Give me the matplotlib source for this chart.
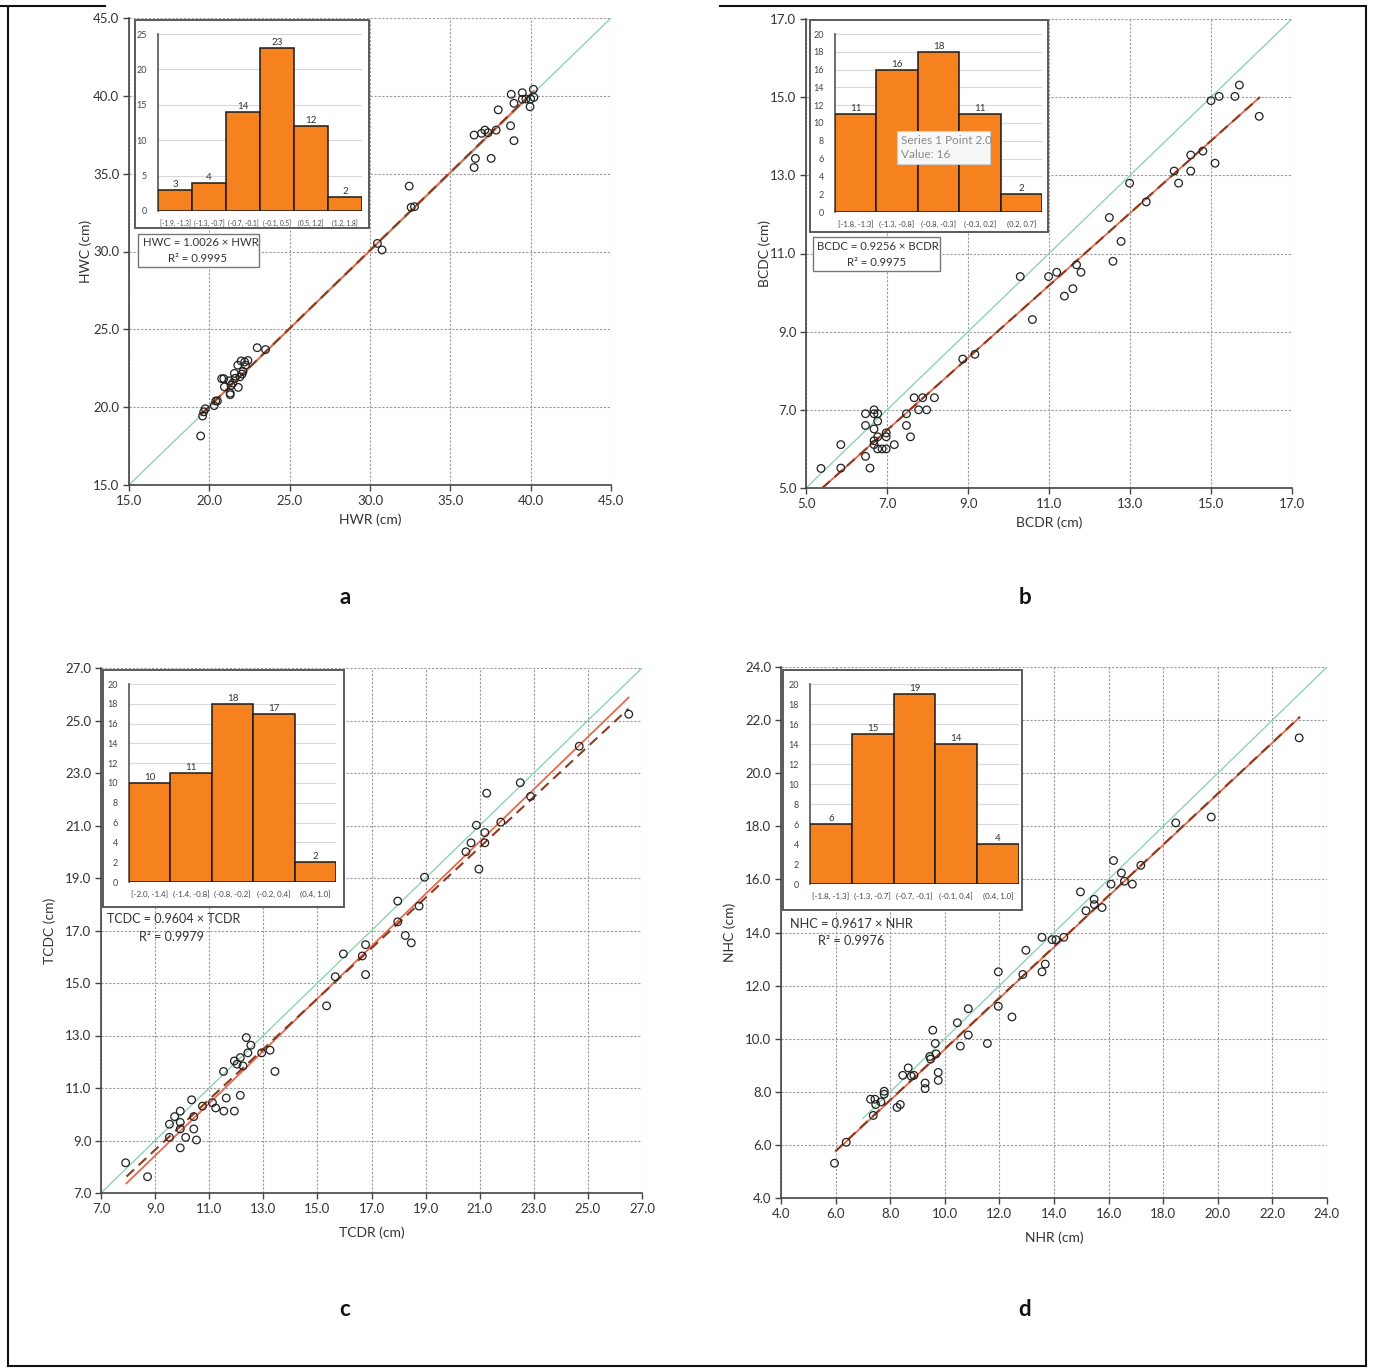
import matplotlib
matplotlib.use("Agg")
import matplotlib.pyplot as plt
from matplotlib.patches import Rectangle
from matplotlib.lines import Line2D
import numpy as np

plt.rcParams['font.family'] = ['Lato', 'DejaVu Sans']

W, H = 1373, 1369

# ---------------- data ----------------
# Panel a: HWR vs HWC
a_x = [19.46, 19.58, 19.65, 19.75, 20.3, 20.4, 20.5, 20.77, 20.9, 20.94, 21.3, 21.3, 21.25, 21.35,
       21.46, 21.56, 21.6, 21.77, 21.8, 21.9, 21.98, 22.04, 22.1, 22.2, 22.25, 22.4, 22.98, 23.5,
       30.46, 30.75, 32.44, 32.56, 32.77,
       36.48, 36.56, 36.48, 36.94, 37.15, 37.35, 37.54, 37.85, 37.98, 38.75, 38.79, 38.96, 38.96,
       39.48, 39.48, 39.7, 39.96, 40.0, 40.17, 40.2]
a_y = [18.15, 19.43, 19.7, 19.9, 20.1, 20.4, 20.4, 21.83, 21.83, 21.3, 20.9, 20.8, 21.7, 21.4,
       21.55, 22.17, 21.85, 22.7, 21.27, 21.95, 22.97, 22.13, 22.3, 22.9, 22.7, 23.0, 23.82, 23.7,
       30.52, 30.1, 34.2, 32.84, 32.88,
       37.48, 35.98, 35.4, 37.59, 37.8, 37.63, 35.98, 37.8, 39.1, 38.08, 40.1, 39.52, 37.12,
       40.2, 39.78, 39.8, 39.3, 39.8, 40.42, 39.9]

# Panel b: BCDR vs BCDC
b_x = [5.37, 5.86, 5.86, 6.47, 6.47, 6.47, 6.58, 6.68, 6.68, 6.68, 6.68, 6.68, 6.77, 6.77, 6.77,
       6.77, 6.88, 6.98, 6.98, 6.98, 7.18, 7.48, 7.48, 7.58, 7.67, 7.78, 7.88, 7.98, 8.17, 8.87,
       9.17, 10.29, 10.59, 10.99, 11.19, 11.38, 11.59, 11.68, 11.79, 12.49, 12.58, 12.78, 12.99,
       13.4, 14.09, 14.2, 14.5, 14.5, 14.8, 15.0, 15.1, 15.2, 15.59, 15.7, 16.19]
b_y = [5.5, 6.11, 5.51, 6.9, 6.6, 5.81, 5.51, 7.0, 6.9, 6.51, 6.21, 6.11, 6.9, 6.71, 6.31,
       6.0, 6.0, 6.41, 6.31, 6.0, 6.11, 6.9, 6.6, 6.31, 7.31, 7.0, 7.31, 7.0, 7.31, 8.3,
       8.42, 10.41, 9.31, 10.41, 10.52, 9.91, 10.1, 10.71, 10.52, 11.92, 10.8, 11.31, 12.8,
       12.32, 13.11, 12.8, 13.52, 13.11, 13.62, 14.91, 13.31, 15.02, 15.02, 15.31, 14.51]

# Panel c: TCDR vs TCDC
c_x = [7.91, 8.72, 9.53, 9.53, 9.72, 9.93, 9.93, 9.93, 9.93, 10.13, 10.35, 10.43, 10.43, 10.53,
       10.75, 11.12, 11.24, 11.53, 11.54, 11.63, 11.93, 11.93, 12.03, 12.15, 12.15, 12.25, 12.37,
       12.43, 12.54, 12.94, 13.25, 13.43, 15.34, 15.66, 15.96, 16.66, 16.78, 16.78, 17.97, 17.97,
       18.25, 18.47, 18.76, 18.96, 20.49, 20.68, 20.88, 20.97, 21.19, 21.19, 21.26, 21.78, 22.5,
       22.88, 24.68, 26.51]
c_y = [8.15, 7.62, 9.62, 9.12, 9.91, 10.12, 9.69, 9.44, 8.72, 9.12, 10.55, 9.91, 9.44, 9.02,
       10.31, 10.44, 10.24, 11.63, 10.12, 10.62, 12.03, 10.12, 11.91, 12.16, 10.72, 11.84, 12.92,
       12.34, 12.63, 12.34, 12.44, 11.63, 14.13, 15.24, 16.11, 16.03, 16.46, 15.32, 18.12, 17.33,
       16.81, 16.53, 17.93, 19.03, 20.0, 20.34, 21.01, 19.34, 20.73, 20.34, 22.23, 21.13, 22.63,
       22.11, 24.02, 25.24]

# Panel d: NHR vs NHC
d_x = [5.96, 6.39, 7.28, 7.38, 7.44, 7.47, 7.66, 7.78, 7.78, 8.25, 8.37, 8.46, 8.66, 8.77, 8.87,
       9.28, 9.28, 9.45, 9.48, 9.56, 9.65, 9.68, 9.76, 9.76, 10.46, 10.57, 10.86, 10.86, 11.56,
       11.96, 11.96, 12.46, 12.86, 12.97, 13.56, 13.56, 13.68, 13.93, 14.07, 14.36, 14.97, 15.17,
       15.47, 15.48, 15.76, 16.09, 16.18, 16.47, 16.58, 16.87, 17.18, 18.46, 19.76, 22.98]
d_y = [5.31, 6.1, 7.72, 7.11, 7.72, 7.52, 7.62, 8.02, 7.91, 7.41, 7.52, 8.62, 8.9, 8.59, 8.62,
       8.33, 8.12, 9.33, 9.23, 10.32, 9.82, 9.43, 8.73, 8.43, 10.6, 9.72, 11.13, 10.14, 9.82,
       12.52, 11.22, 10.82, 12.42, 13.33, 13.82, 12.52, 12.81, 13.73, 13.73, 13.82, 15.53, 14.82,
       15.25, 15.05, 14.94, 15.82, 16.71, 16.24, 15.93, 15.82, 16.53, 18.13, 18.35, 21.33]

# Histograms of differences
a_bins = ["[-1.9, -1.3]", "(-1.3, -0.7]", "(-0.7, -0.1]", "(-0.1, 0.5]", "(0.5, 1.2]", "(1.2, 1.8]"]
a_counts = [3, 4, 14, 23, 12, 2]
b_bins = ["[-1.8, -1.3]", "(-1.3, -0.8]", "(-0.8, -0.3]", "(-0.3, 0.2]", "(0.2, 0.7]"]
b_counts = [11, 16, 18, 11, 2]
c_bins = ["[-2.0, -1.4]", "(-1.4, -0.8]", "(-0.8, -0.2]", "(-0.2, 0.4]", "(0.4, 1.0]"]
c_counts = [10, 11, 18, 17, 2]
d_bins = ["[-1.8, -1.3]", "(-1.3, -0.7]", "(-0.7, -0.1]", "(-0.1, 0.4]", "(0.4, 1.0]"]
d_counts = [6, 15, 19, 14, 4]

# Regression: [x_start, x_end], zero-intercept slope (dashed), linear trend slope & intercept (solid)
a_fit_range = [19.5, 40.2]; a_slope0 = 1.0026; a_trend = [1.0026, 0.0]
b_fit_range = [5.4, 16.2];  b_slope0 = 0.9256; b_trend = [0.9256, 0.0]
c_fit_range = [7.94, 26.5]; c_slope0 = 0.9604; c_trend = [0.997, -0.55]
d_fit_range = [6.0, 23.0];  d_slope0 = 0.9617; d_trend = [0.962, -0.02]

# 1:1 line ranges
a_id = [15, 45]; b_id = [5, 17]; c_id = [7, 27]; d_id = [7, 24]

# Axis setup
a_lim = (15, 45, 5); b_lim = (5, 17, 2); c_lim = (7, 27, 2); d_lim = (4, 24, 2)
a_labels = ("HWR (cm)", "HWC (cm)"); b_labels = ("BCDR (cm)", "BCDC (cm)")
c_labels = ("TCDR (cm)", "TCDC (cm)"); d_labels = ("NHR (cm)", "NHC (cm)")
a_eq = ("HWC = 1.0026 × HWR", "R² = 0.9995")
b_eq = ("BCDC = 0.9256 × BCDR", "R² = 0.9975")
c_eq = ("TCDC = 0.9604 × TCDR", "R² = 0.9979")
d_eq = ("NHC = 0.9617 × NHR", "R² = 0.9976")

fig = plt.figure(figsize=(W / 100, H / 100), dpi=100)


def fx(px):
    return px / W


def fy(py):
    return 1 - py / H


def add_ax(l, t, r, b):
    return fig.add_axes([fx(l), fy(b), fx(r) - fx(l), fy(t) - fy(b)])


GREEN = "#8fd3b4"
RED = "#e4694f"
DASH = "#8e3a1f"
ORANGE = "#f5821f"


def scatter_panel(box, lim, xs, ys, fit_range, slope0, trend, idr, labels, xlab_y, ylab_x):
    l, t, r, b = box
    ax = add_ax(l, t, r, b)
    lo, hi, step = lim
    ticks = np.arange(lo, hi + step / 2, step)
    ax.set_xlim(lo, hi)
    ax.set_ylim(lo, hi)
    ax.set_xticks(ticks)
    ax.set_yticks(ticks)
    ax.set_xticklabels([f"{v:.1f}" for v in ticks])
    ax.set_yticklabels([f"{v:.1f}" for v in ticks])
    ax.grid(True, color="#9a9a9a", linestyle=(0, (2, 1.5)), linewidth=0.8)
    ax.set_axisbelow(True)
    for s in ["top", "right"]:
        ax.spines[s].set_visible(False)
    for s in ["left", "bottom"]:
        ax.spines[s].set_color("#444444")
        ax.spines[s].set_linewidth(1.2)
    ax.tick_params(axis="both", length=4, width=1, color="#444444", labelsize=9.5,
                   labelcolor="#333333", pad=3)
    xi = np.array(idr, dtype=float)
    ax.plot(xi, xi, color=GREEN, lw=1.0, zorder=2)
    xf = np.array(fit_range, dtype=float)
    ax.plot(xf, trend[0] * xf + trend[1], color=RED, lw=1.3, zorder=3)
    ax.plot(xf, slope0 * xf, color=DASH, lw=1.5, ls=(0, (5, 3)), zorder=4)
    ax.scatter(xs, ys, s=30, facecolors="none", edgecolors="#222222", linewidths=0.9, zorder=5)
    fig.text(fx((l + r) / 2), fy(xlab_y), labels[0], ha="center", va="center",
             fontsize=10, color="#333333")
    fig.text(fx(ylab_x), fy((t + b) / 2), labels[1], ha="center", va="center",
             rotation=90, fontsize=10, color="#333333")
    return ax


def hist_inset(boxrect, histbox, counts, bins, ymax, ystep, lblfs=6.0):
    bl, bt, br, bb = boxrect
    fig.patches.append(Rectangle((fx(bl), fy(bb)), fx(br) - fx(bl), fy(bt) - fy(bb),
                                 transform=fig.transFigure, facecolor="white",
                                 edgecolor="#5a5a5a", lw=1.4, zorder=10))
    l, t, r, b = histbox
    hx = add_ax(l, t, r, b)
    hx.set_zorder(11)
    hx.patch.set_alpha(0)
    n = len(counts)
    pos = np.arange(n)
    hx.bar(pos, counts, width=1.0, color=ORANGE, edgecolor="#1a1a1a", linewidth=1.1, zorder=3)
    hx.set_xlim(-0.5, n - 0.5)
    hx.set_ylim(0, ymax)
    hx.set_yticks(np.arange(0, ymax + 0.1, ystep))
    hx.yaxis.grid(True, color="#d9d9d9", lw=0.8)
    hx.set_axisbelow(True)
    hx.set_xticks(pos)
    hx.set_xticklabels(bins, fontsize=lblfs, color="#444444")
    hx.tick_params(axis="x", length=0, pad=6)
    hx.tick_params(axis="y", length=0, labelsize=6.5, labelcolor="#444444", pad=8)
    for s in ["top", "right", "bottom"]:
        hx.spines[s].set_visible(False)
    hx.spines["left"].set_color("#555555")
    hx.spines["left"].set_linewidth(1.2)
    for p_, c_ in zip(pos, counts):
        hx.text(p_, c_ + ymax * 0.005, str(c_), ha="center", va="bottom", fontsize=7, color="#333333")
    return hx


def eq_text(lines, x1, y1, x2, y2, fs, box=None):
    if box is not None:
        bl, bt, br, bb = box
        fig.patches.append(Rectangle((fx(bl), fy(bb)), fx(br) - fx(bl), fy(bt) - fy(bb),
                                     transform=fig.transFigure, facecolor="white",
                                     edgecolor="#777777", lw=1.0, zorder=10))
    fig.text(fx(x1), fy(y1), lines[0], ha="left", va="center", fontsize=fs, color="#333333", zorder=12)
    fig.text(fx(x2), fy(y2), lines[1], ha="left", va="center", fontsize=fs, color="#333333", zorder=12)


# ---- panel a ----
scatter_panel((129, 18, 611, 485), a_lim, a_x, a_y, a_fit_range, a_slope0, a_trend, a_id,
              a_labels, 520, 86)
hist_inset((135, 20, 369, 228), (158, 34, 362, 211), a_counts, a_bins, 25, 5, lblfs=4.8)
eq_text(a_eq, 143, 243, 168, 258, 8.2, box=(138, 234, 259, 267))

# ---- panel b ----
scatter_panel((806, 19, 1292, 488), b_lim, b_x, b_y, b_fit_range, b_slope0, b_trend, b_id,
              b_labels, 523, 765)
hist_inset((810, 20, 1048, 232), (835, 34, 1042, 212), b_counts, b_bins, 20, 2, lblfs=5.5)
eq_text(b_eq, 817, 246, 847, 262, 8.2, box=(813, 237, 940, 271))
# tooltip
fig.patches.append(Rectangle((fx(897), fy(164)), fx(990) - fx(897), fy(131) - fy(164),
                             transform=fig.transFigure, facecolor="#f8f8f8",
                             edgecolor="#d0d0d0", lw=0.8, zorder=13))
fig.text(fx(901), fy(140), "Series 1 Point 2.0", fontsize=8.5, color="#8a8a8a",
         ha="left", va="center", zorder=14)
fig.text(fx(901), fy(155), "Value: 16", fontsize=8.5, color="#8a8a8a",
         ha="left", va="center", zorder=14)

# ---- panel c ----
scatter_panel((101, 668, 642, 1193), c_lim, c_x, c_y, c_fit_range, c_slope0, c_trend, c_id,
              c_labels, 1233, 50)
hist_inset((103, 670, 344, 907), (129, 684, 336, 882), c_counts, c_bins, 20, 2, lblfs=5.8)
eq_text(c_eq, 107, 919, 139, 937, 9.0)

# ---- panel d ----
scatter_panel((781, 667, 1327, 1198), d_lim, d_x, d_y, d_fit_range, d_slope0, d_trend, d_id,
              d_labels, 1238, 730)
hist_inset((783, 670, 1022, 910), (810, 684, 1019, 884), d_counts, d_bins, 20, 2, lblfs=5.8)
eq_text(d_eq, 790, 924, 818, 941, 9.2)

# panel letters
for lab, (px, py) in zip(["a", "b", "c", "d"], [(345, 597), (1025, 597), (345, 1310), (1025, 1310)]):
    fig.text(fx(px), fy(py), lab, ha="center", va="center", fontsize=16, fontweight="bold",
             color="#111111")

# outer border
for seg in [((8, 8), (8, 1366)), ((1366, 8), (1366, 1366)), ((8, 1366), (1366, 1366)),
            ((0, 6), (105, 6)), ((720, 6), (1366, 6))]:
    (x0, y0), (x1, y1) = seg
    fig.add_artist(Line2D([fx(x0), fx(x1)], [fy(y0), fy(y1)], transform=fig.transFigure,
                          color="#111111", lw=1.5))

fig.savefig("out.png", dpi=100)
